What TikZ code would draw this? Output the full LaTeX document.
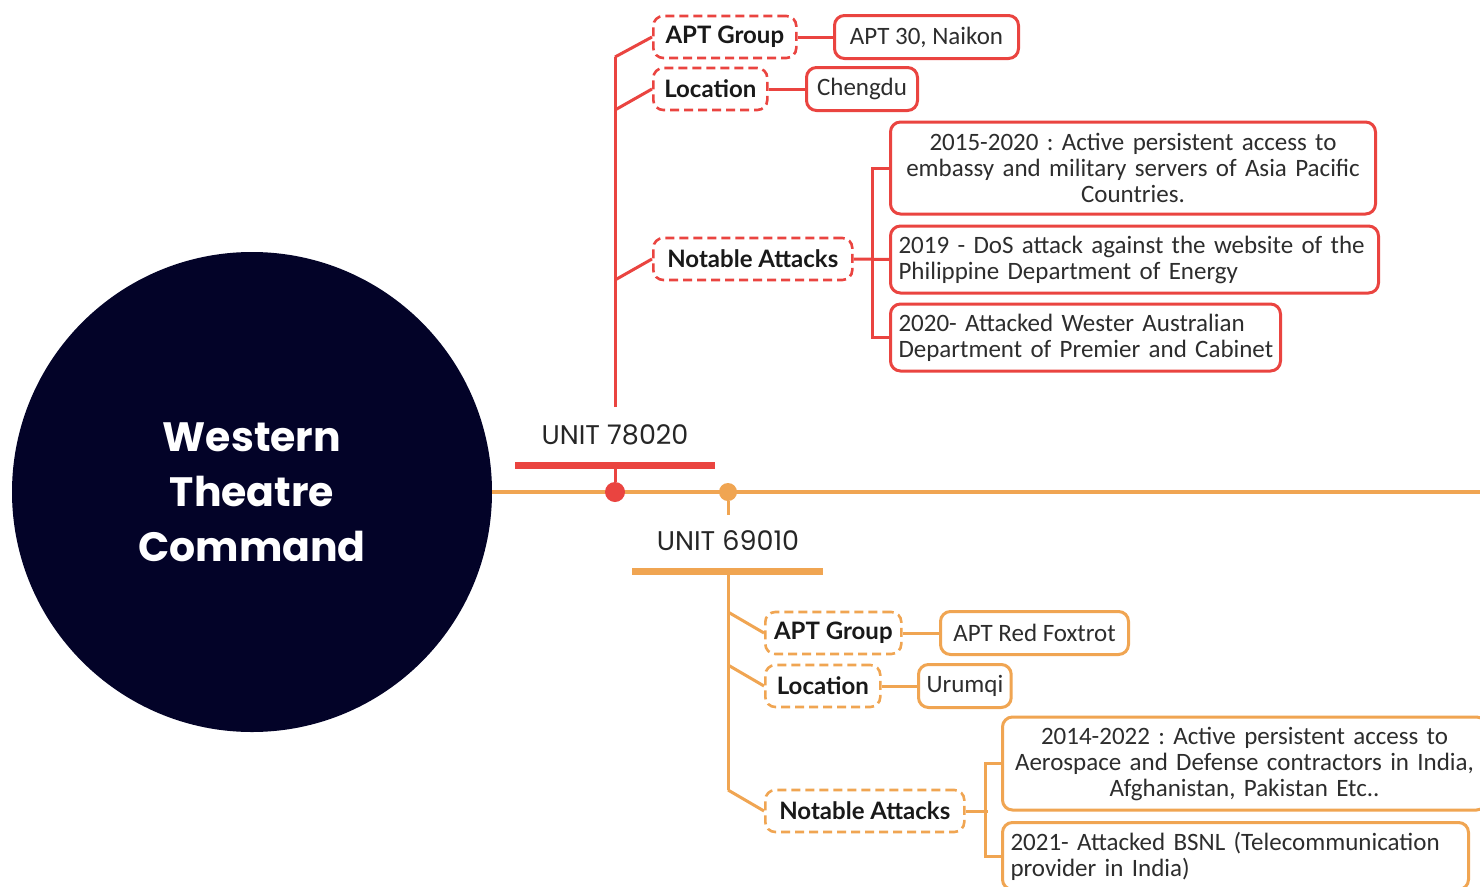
\documentclass[tikz,border=0pt]{standalone}
\usepackage{fontspec}
\setmainfont{Carlito}
\newfontfamily\hubfont{Poppins}
\newfontfamily\tagfont{Lato}
\definecolor{navy}{RGB}{3,3,40}
\definecolor{unitred}{RGB}{234,68,64}
\definecolor{unitorange}{RGB}{240,165,82}
\definecolor{bodytext}{RGB}{45,45,45}

\tikzset{
  hub/.style={circle, fill=navy, minimum size=480pt, inner sep=0pt,
    text=white, align=center, font=\hubfont\bfseries\fontsize{41}{55}\selectfont},
  unitlabel/.style={text=black!85, font=\hubfont\fontsize{27}{30}\selectfont, inner sep=0pt},
  tagbox/.style={draw, dash pattern=on 9pt off 5pt, line width=2.6pt, rounded corners=10pt,
    fill=white, anchor=west, minimum height=42pt, inner xsep=6pt,
    text=black!90, font=\tagfont\bfseries\fontsize{24}{26}\selectfont},
  leafbox/.style={draw, line width=3pt, rounded corners=10pt, fill=white, anchor=west,
    minimum height=43pt, inner xsep=8pt, inner ysep=4pt,
    text=bodytext, font=\frenchspacing\fontsize{25}{26}\selectfont},
  link/.style={line width=3pt},
  rbranch/.style={link, draw=unitred},
  obranch/.style={link, draw=unitorange},
}

\begin{document}
\begin{tikzpicture}[x=1pt, y=-1pt]
\clip (0,0) rectangle (1480,886);
\fill[white] (0,0) rectangle (1480,886);

% main timeline and the command hub
\coordinate (lineend) at (1480,492);
\node[hub] (hub) at (252,492) {Western\\Theatre\\Command};
\draw[unitorange, line width=4pt] (hub.east) -- (lineend);

% ---------------- Unit 78020 (above the line) ----------------
\node[circle, fill=unitred, minimum size=20pt, inner sep=0pt] (rdot) at (615,492) {};
\coordinate (rbarL) at (515,465);
\coordinate (rbarR) at (715,465);
\coordinate (rbarM) at (615,465);
\draw[unitred, line width=7pt] (rbarL) -- (rbarR);
\draw[rbranch] (rdot) -- (rbarM);
\node[unitlabel] (runit) at (615,435) {UNIT 78020};

\coordinate (rbase) at (615,407);
\coordinate (rtop) at (615,57);
\coordinate (rj1) at (615,57);
\coordinate (rj2) at (615,110);
\coordinate (rj3) at (615,280);
\draw[rbranch] (rbase) -- (rtop);

\node[tagbox, draw=unitred, minimum width=143pt] (rg) at (652,37) {APT Group};
\node[leafbox, draw=unitred, minimum width=184pt] (rgv) at (833,37) {APT 30, Naikon};
\node[tagbox, draw=unitred, minimum width=114pt] (rl) at (652,89) {Location};
\node[leafbox, draw=unitred, minimum width=111pt] (rlv) at (805,89) {Chengdu};
\node[tagbox, draw=unitred, minimum width=199pt] (rn) at (652,259) {Notable Attacks};

\node[leafbox, draw=unitred, text width=469pt, align=center, minimum height=92pt] (ra1) at (889,168)
  {2015-2020 : Active persistent access to\\embassy and military servers of Asia Pacific\\Countries.};
\node[leafbox, draw=unitred, text width=472pt, align=left, minimum height=67pt] (ra2) at (889,259.5)
  {2019 - DoS attack against the website of the\\Philippine Department of Energy};
\node[leafbox, draw=unitred, text width=374pt, align=left, minimum height=67pt] (ra3) at (889,337.5)
  {2020- Attacked Wester Australian\\\mbox{Department of Premier and Cabinet}};

\draw[rbranch] (rj1) -- (rg.west);
\draw[rbranch] (rj2) -- (rl.west);
\draw[rbranch] (rj3) -- (rn.west);
\draw[rbranch] (rg.east) -- (rgv.west);
\draw[rbranch] (rl.east) -- (rlv.west);
\draw[rbranch] (rn.east) -- (ra2.west);
\draw[rbranch] (ra1.west) -- ++(-17,0) |- (ra3.west);

% ---------------- Unit 69010 (below the line) ----------------
\node[circle, fill=unitorange, minimum size=18pt, inner sep=0pt] (odot) at (728,492) {};
\coordinate (ostub) at (728,515);
\draw[obranch] (odot) -- (ostub);
\node[unitlabel] (ounit) at (728,541) {UNIT 69010};
\coordinate (obarL) at (632,571);
\coordinate (obarR) at (823,571);
\coordinate (obarM) at (728,571);
\draw[unitorange, line width=7pt] (obarL) -- (obarR);

\coordinate (obottom) at (728,790);
\coordinate (oj1) at (728,612);
\coordinate (oj2) at (728,665);
\coordinate (oj3) at (728,790);
\draw[obranch] (obarM) -- (obottom);

\node[tagbox, draw=unitorange, minimum width=136pt] (og) at (764,633) {APT Group};
\node[leafbox, draw=unitorange, minimum width=188pt] (ogv) at (939,633) {APT Red Foxtrot};
\node[tagbox, draw=unitorange, minimum width=115pt] (ol) at (764,686) {Location};
\node[leafbox, draw=unitorange, minimum width=92pt] (olv) at (917,686) {Urumqi};
\node[tagbox, draw=unitorange, minimum width=199pt] (on) at (764,811) {Notable Attacks};

\node[leafbox, draw=unitorange, text width=468pt, align=center, minimum height=93pt] (oa1) at (1001,763.5)
  {2014-2022 : Active persistent access to\\Aerospace and Defense contractors in India,\\Afghanistan, Pakistan Etc..};
\node[leafbox, draw=unitorange, text width=450pt, align=left, minimum height=67pt] (oa2) at (1001,856)
  {2021- Attacked BSNL (Telecommunication\\provider in India)};

\draw[obranch] (oj1) -- (og.west);
\draw[obranch] (oj2) -- (ol.west);
\draw[obranch] (oj3) -- (on.west);
\draw[obranch] (og.east) -- (ogv.west);
\draw[obranch] (ol.east) -- (olv.west);
\draw[obranch] (on.east) -- ++(22,0);
\draw[obranch] (oa1.west) -- ++(-16,0) |- (oa2.west);
\end{tikzpicture}
\end{document}
